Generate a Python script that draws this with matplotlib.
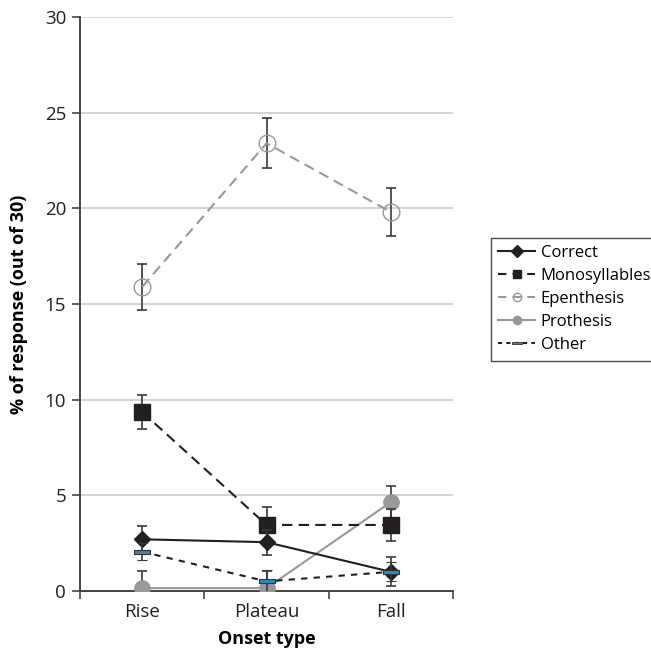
import matplotlib.pyplot as plt
from matplotlib.lines import Line2D

plt.rcParams['font.family'] = ['Open Sans', 'DejaVu Sans']

# categories and series values (% of response)
onsets = ['Rise', 'Plateau', 'Fall']
correct = [2.7, 2.55, 1.0]
correct_err = [0.7, 0.65, 0.75]
mono = [9.35, 3.45, 3.45]
mono_err = [0.9, 0.95, 0.85]
epen = [15.9, 23.4, 19.8]
epen_err = [1.2, 1.3, 1.25]
proth = [0.15, 0.15, 4.65]
proth_err = [0.9, 0.9, 0.85]
other = [2.05, 0.5, 1.0]
other_err = [0.45, 0.6, 0.5]

x = list(range(len(onsets)))

fig = plt.figure(figsize=(6.51, 6.53), dpi=100)
ax = fig.add_axes([0.123, 0.095, 0.573, 0.879])

ebar = dict(ecolor='#3a3a3a', elinewidth=1.2, capsize=3.5, capthick=1.2)

# a flat bar marker for "Other"
flat = [(-1, -0.3), (1, -0.3), (1, 0.3), (-1, 0.3), (-1, -0.3)]

ax.errorbar(x, proth, yerr=proth_err, color='#999999', ls='-', lw=1.5,
            marker='o', ms=11, mfc='#999999', mec='#999999', zorder=3, **ebar)
ax.errorbar(x, epen, yerr=epen_err, color='#999999', ls=(0, (5, 3)), lw=1.5,
            marker='o', ms=12, mfc='none', mec='#999999', zorder=3, **ebar)
ax.errorbar(x, mono, yerr=mono_err, color='#231f20', ls=(0, (5, 3)), lw=1.5,
            marker='s', ms=11.5, mfc='#231f20', mec='#231f20', zorder=4, **ebar)
ax.errorbar(x, correct, yerr=correct_err, color='#231f20', ls='-', lw=1.5,
            marker='D', ms=8, mfc='#231f20', mec='#231f20', zorder=5, **ebar)
ax.errorbar(x, other, yerr=other_err, color='#231f20', ls=(0, (3, 3)), lw=1.5,
            marker=flat, ms=11, mfc='#2b8ccb', mec='#333333', mew=0.8,
            zorder=6, **ebar)

ax.set_xlim(-0.5, 2.5)
ax.set_ylim(0, 30)
ax.set_yticks(range(0, 31, 5))
ax.set_xticks(x)
ax.set_xticklabels(onsets)
ax.set_xticks([-0.5, 0.5, 1.5, 2.5], minor=True)
ax.tick_params(axis='x', which='major', length=0, labelsize=13.5, pad=9, colors='#231f20')
ax.tick_params(axis='x', which='minor', length=6, width=1.2, color='#444444')
ax.tick_params(axis='y', length=6, width=1.2, color='#444444', labelsize=13.5,
               colors='#231f20', pad=4)
ax.grid(axis='y', color='#cccccc', lw=1.2)
ax.set_axisbelow(True)
for s in ['top', 'right']:
    ax.spines[s].set_visible(False)
for s in ['left', 'bottom']:
    ax.spines[s].set_color('#444444')
    ax.spines[s].set_linewidth(1.4)

ax.set_xlabel('Onset type', fontsize=13, fontweight='bold', labelpad=6)
ax.set_ylabel('% of response (out of 30)', fontsize=13, fontweight='bold', labelpad=12)

# legend with small markers, no error bars
handles = [
    Line2D([], [], color='#231f20', ls='-', lw=1.5, marker='D', ms=6,
           mfc='#231f20', mec='#231f20'),
    Line2D([], [], color='#231f20', ls=(0, (4, 3)), lw=1.5, marker='s', ms=6,
           mfc='#231f20', mec='#231f20'),
    Line2D([], [], color='#999999', ls=(0, (4, 3)), lw=1.5, marker='o', ms=6,
           mfc='none', mec='#999999'),
    Line2D([], [], color='#999999', ls='-', lw=1.5, marker='o', ms=6,
           mfc='#999999', mec='#999999'),
    Line2D([], [], color='#231f20', ls=(0, (2, 2)), lw=1.5, marker=flat, ms=7,
           mfc='#2b8ccb', mec='#333333', mew=0.6),
]
labels = ['Correct', 'Monosyllables', 'Epenthesis', 'Prothesis', 'Other']
leg = fig.legend(handles, labels, loc='upper left', bbox_to_anchor=(0.754, 0.636),
                 frameon=True, fancybox=False, edgecolor='#231f20',
                 fontsize=12, handlelength=2.2, labelspacing=0.42,
                 borderpad=0.45, handletextpad=0.35, borderaxespad=0)
leg.get_frame().set_linewidth(1.0)

fig.savefig('out.png', dpi=100)
